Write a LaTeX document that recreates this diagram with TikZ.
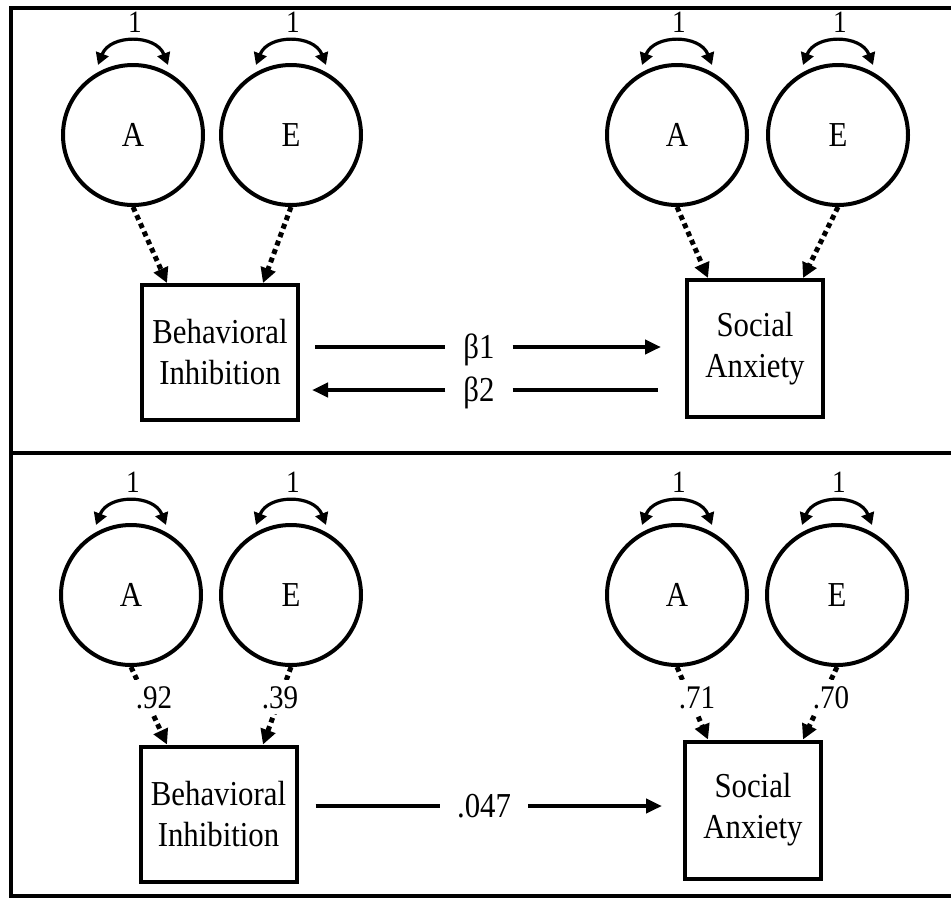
\documentclass[tikz,border=0pt]{standalone}
\usepackage{fontspec}
\setmainfont{Liberation Serif}[FakeStretch=0.88]
\usetikzlibrary{arrows.meta,calc}
\begin{document}
\begin{tikzpicture}[x=1pt,y=-1pt,
  every node/.style={font=\fontsize{35}{41}\selectfont},
  lat/.style={circle, draw, line width=4pt, minimum size=140pt, inner sep=0pt},
  obs/.style={rectangle, draw, line width=4pt, align=center, inner sep=0pt},
  frameline/.style={line width=3.5pt},
  varr/.style={line width=3.2pt, {Triangle[length=12pt,width=13pt]}-{Triangle[length=12pt,width=13pt]}},
  dotarr/.style={line width=5pt, dash pattern=on 5pt off 4pt, -{Triangle[length=15pt,width=15pt]}},
  regarr/.style={line width=4.5pt, -{Triangle[length=16pt,width=14pt]}},
  plainline/.style={line width=4.5pt},
  lbl/.style={inner ysep=0pt, inner xsep=18pt, text height=23pt, text depth=0pt},
  coef/.style={fill=white, inner xsep=2pt, inner ysep=6pt, text height=22pt, text depth=0pt, font=\fontsize{33}{38}\selectfont},
  vlab/.style={inner sep=0pt, font=\fontsize{31}{36}\selectfont},
]
\useasboundingbox (0,0) rectangle (951,898);

% frame
\draw[frameline] (951,8) -- (11,8) -- (11,896) -- (951,896);
\draw[frameline] (11,453) -- (951,453);

% ---------- top panel ----------
\node[lat] (A1) at (133,135) {A};
\node[lat] (E1) at (291,135) {E};
\node[lat] (A2) at (677,135) {A};
\node[lat] (E2) at (838,135) {E};
\node[obs, minimum width=156pt, minimum height=135pt] (BI1) at (220,352.5) {Behavioral\\Inhibition};
\node[obs, minimum width=136pt, minimum height=137pt] (SA1) at (755,348.5) {Social\\Anxiety};

\foreach \c in {A1,E1,A2,E2}{
  \draw[varr] ($(\c)+(-35,-70)$) .. controls +(12,-31) and +(-12,-31) .. ($(\c)+(35,-70)$);
  \node[vlab] at ($(\c)+(2,-113)$) {1};
}

\draw[dotarr] (A1.south) -- ($(BI1.north)+(-53,0)$);
\draw[dotarr] (E1.south) -- ($(BI1.north)+(43,0)$);
\draw[dotarr] (A2.south) -- ($(SA1.north)+(-47,0)$);
\draw[dotarr] (E2.south) -- ($(SA1.north)+(48,0)$);

\node[lbl] (b1) at (479,347) {β1};
\node[lbl] (b2) at (479,390) {β2};
\draw[plainline] ($(BI1.east |- b1)+(15,0)$) -- (b1.west);
\draw[regarr] (b1.east) -- ($(SA1.west |- b1)+(-24,0)$);
\draw[regarr] (b2.west) -- ($(BI1.east |- b2)+(12,0)$);
\draw[plainline] (b2.east) -- ($(SA1.west |- b2)+(-27,0)$);

% ---------- bottom panel ----------
\node[lat] (A3) at (131,595) {A};
\node[lat] (E3) at (291,595) {E};
\node[lat] (A4) at (677,595) {A};
\node[lat] (E4) at (837,595) {E};
\node[obs, minimum width=156pt, minimum height=135pt] (BI2) at (218.5,814) {Behavioral\\Inhibition};
\node[obs, minimum width=136pt, minimum height=137pt] (SA2) at (753,810) {Social\\Anxiety};

\foreach \c in {A3,E3,A4,E4}{
  \draw[varr] ($(\c)+(-35,-70)$) .. controls +(12,-31) and +(-12,-31) .. ($(\c)+(35,-70)$);
  \node[vlab] at ($(\c)+(2,-113)$) {1};
}

\draw[dotarr] (A3.south) -- ($(BI2.north)+(-51.5,0)$);
\draw[dotarr] (E3.south) -- ($(BI2.north)+(44.5,0)$);
\draw[dotarr] (A4.south) -- ($(SA2.north)+(-45,0)$);
\draw[dotarr] (E4.south) -- ($(SA2.north)+(50,0)$);

\node[coef] (l1) at (154,697) {.92};
\node[coef] (l2) at (280,697) {.39};
\node[coef] (l3) at (697,697) {.71};
\node[coef] (l4) at (831,697) {.70};

\node[lbl, inner xsep=17pt] (c1) at (484,806) {.047};
\draw[plainline] ($(BI2.east |- c1)+(17,0)$) -- (c1.west);
\draw[regarr] (c1.east) -- ($(SA2.west |- c1)+(-21,0)$);
\end{tikzpicture}
\end{document}
